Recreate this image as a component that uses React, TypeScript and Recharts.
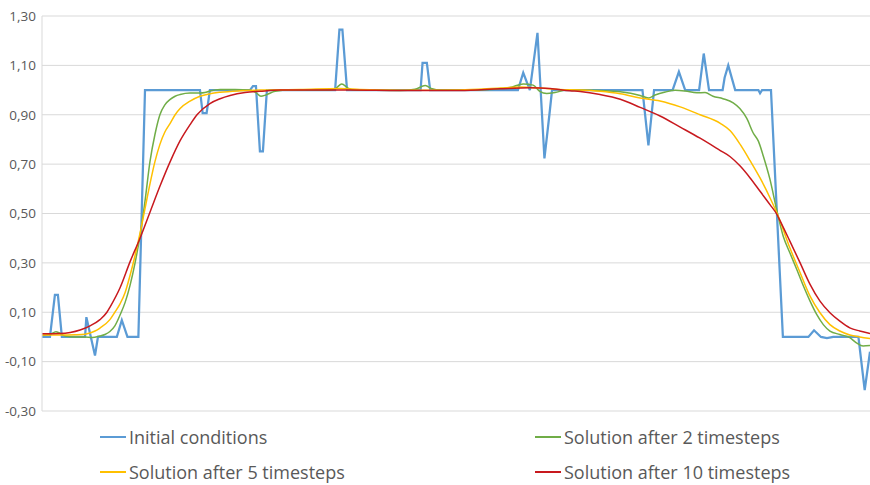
import { LineChart, Line, XAxis, YAxis, CartesianGrid, Legend } from 'recharts';

// x = cell position along the domain (0..250), y = value
const initialConditions: [number, number][] = [
  [0, 0], [2.4, 0], [3.9, 0.17], [4.8, 0.17], [6.0, 0], [13.0, 0], [13.4, 0.08],
  [16.0, -0.075], [16.9, 0], [22.6, 0], [24.1, 0.068], [25.8, 0], [29.1, 0],
  [31.1, 1.0], [47.7, 1.0], [48.5, 0.907], [49.7, 0.907], [50.7, 1.0], [62.8, 1.0],
  [63.7, 1.016], [64.6, 1.016], [65.8, 0.752], [66.7, 0.752], [67.9, 1.0],
  [88.5, 1.0], [89.8, 1.245], [90.7, 1.245], [92.1, 1.0], [114.3, 1.0],
  [114.9, 1.11], [116.2, 1.11], [117.2, 1.0], [143.7, 1.0], [145.3, 1.07],
  [147.3, 1.0], [149.6, 1.232], [151.7, 0.723], [153.2, 0.9], [154.0, 1.0],
  [181.3, 1.0], [183.1, 0.776], [184.8, 1.0], [190.4, 1.0], [192.3, 1.074],
  [194.2, 1.0], [198.4, 1.0], [199.8, 1.148], [201.4, 1.0], [205.5, 1.0],
  [206.1, 1.05], [207.2, 1.1], [209.3, 1.0], [216.3, 1.0], [216.8, 0.987],
  [217.4, 1.0], [220.1, 1.0], [223.7, 0], [231.4, 0], [233.1, 0.027], [235.2, 0],
  [237.0, -0.005], [238.9, 0], [246.5, 0], [248.4, -0.215], [250, -0.06],
];

const after2Steps: [number, number][] = [
  [0, 0.006], [2.4, 0.01], [4.2, 0.021], [5.4, 0.015], [6.9, 0.004], [10.0, 0],
  [13.0, 0], [15.1, -0.002], [17.5, 0.004], [19.0, 0.01], [20.5, 0.022],
  [22.0, 0.045], [23.6, 0.09], [25.1, 0.14], [26.6, 0.21], [28.1, 0.3],
  [29.6, 0.41], [31.1, 0.55], [32.6, 0.71], [34.1, 0.82], [35.6, 0.9],
  [37.1, 0.94], [38.7, 0.962], [40.2, 0.975], [41.7, 0.982], [44.7, 0.988],
  [47.7, 0.988], [49.2, 0.99], [50.7, 0.996], [53.8, 1.002], [58.3, 1.002],
  [62.8, 1.0], [64.6, 0.99], [66.1, 0.975], [67.6, 0.98], [70.4, 0.995],
  [74.9, 1.0], [87.0, 1.0], [88.8, 1.008], [90.5, 1.025], [92.4, 1.008],
  [94.5, 1.0], [108.1, 0.998], [112.6, 1.003], [115.7, 1.018], [117.8, 1.005],
  [120.2, 1.0], [132.3, 1.0], [141.3, 1.01], [145.3, 1.025], [148.3, 1.02],
  [150.3, 0.995], [152.4, 0.986], [154.9, 0.99], [158.4, 1.0], [162.5, 1.0],
  [168.5, 0.998], [174.6, 0.993], [180.6, 0.978], [183.1, 0.968], [185.1, 0.98],
  [188.2, 0.992], [191.2, 0.999], [194.2, 0.996], [197.7, 0.989], [200.2, 0.99],
  [202.6, 0.975], [205.6, 0.965], [208.7, 0.948], [210.7, 0.925], [212.8, 0.885],
  [214.7, 0.827], [216.3, 0.793], [217.8, 0.732], [219.8, 0.638], [221.9, 0.51],
  [223.8, 0.408], [225.8, 0.341], [227.9, 0.273], [229.9, 0.206], [231.9, 0.145],
  [233.9, 0.091], [235.9, 0.05], [237.9, 0.024], [240.9, 0.01], [243.9, -0.003],
  [245.9, -0.024], [247.9, -0.037], [250, -0.035],
];

const after5Steps: [number, number][] = [
  [0, 0.008], [5.4, 0.008], [10.0, 0.009], [13.0, 0.011], [14.5, 0.016],
  [16.0, 0.024], [17.5, 0.036], [20.5, 0.07], [22.0, 0.1], [23.6, 0.135],
  [25.1, 0.18], [26.6, 0.25], [28.1, 0.33], [29.6, 0.42], [31.1, 0.52],
  [32.6, 0.62], [34.1, 0.71], [35.6, 0.78], [37.1, 0.83], [38.7, 0.865],
  [40.2, 0.9], [41.7, 0.925], [44.7, 0.955], [47.7, 0.975], [50.7, 0.985],
  [53.8, 0.991], [59.8, 0.997], [65.8, 1.0], [77.9, 1.002], [90.0, 1.006],
  [96.0, 1.002], [108.1, 0.999], [126.2, 1.0], [138.3, 1.008], [144.3, 1.012],
  [150.4, 1.008], [156.4, 1.002], [162.5, 1.0], [168.5, 0.995], [174.6, 0.985],
  [180.6, 0.968], [186.6, 0.956], [192.7, 0.932], [198.7, 0.9], [204.8, 0.865],
  [207.8, 0.835], [210.8, 0.78], [213.8, 0.714], [216.8, 0.644], [219.8, 0.564],
  [222.3, 0.489], [225.8, 0.361], [228.9, 0.26], [231.9, 0.165], [234.9, 0.098],
  [237.9, 0.05], [240.9, 0.024], [243.9, 0.008], [246.9, 0], [250, -0.006],
];

const after10Steps: [number, number][] = [
  [0, 0.013], [5.4, 0.014], [8.5, 0.018], [11.5, 0.028], [14.5, 0.045],
  [17.5, 0.07], [19.6, 0.1], [20.5, 0.12], [23.6, 0.2], [26.6, 0.305],
  [29.6, 0.4], [32.6, 0.505], [35.6, 0.61], [38.7, 0.71], [41.7, 0.795],
  [44.7, 0.86], [46.8, 0.9], [50.7, 0.945], [53.8, 0.965], [56.8, 0.978],
  [61.3, 0.99], [65.8, 0.995], [71.9, 1.0], [93.0, 1.0], [108.1, 0.998],
  [126.2, 0.998], [138.3, 1.005], [147.3, 1.009], [153.4, 1.006], [159.4, 0.997],
  [162.5, 0.994], [168.5, 0.982], [174.6, 0.963], [180.6, 0.93], [186.6, 0.895],
  [192.7, 0.85], [198.7, 0.805], [204.8, 0.755], [207.8, 0.73], [210.8, 0.692],
  [213.8, 0.644], [216.8, 0.59], [219.8, 0.536], [221.9, 0.496], [222.9, 0.469],
  [225.8, 0.388], [228.9, 0.3], [231.9, 0.213], [234.9, 0.145], [237.9, 0.098],
  [240.9, 0.064], [243.9, 0.037], [246.9, 0.024], [250, 0.014],
];

const seriesNames = [
  'Initial conditions',
  'Solution after 2 timesteps',
  'Solution after 5 timesteps',
  'Solution after 10 timesteps',
];

const yTicks = [-0.3, -0.1, 0.1, 0.3, 0.5, 0.7, 0.9, 1.1, 1.3];

const toPoints = (pairs: [number, number][]) => pairs.map(([x, y]) => ({ x, y }));

const formatTick = (v: number) => v.toFixed(2).replace('.', ',');

function TwoColumnLegend(props: any) {
  const items = [...(props.payload || [])].sort(
    (a: any, b: any) => seriesNames.indexOf(a.value) - seriesNames.indexOf(b.value)
  );
  return (
    <div style={{ position: 'relative', width: 870, height: 55 }}>
      {items.map((item: any, i: number) => (
        <div
          key={item.value}
          style={{
            position: 'absolute',
            left: 100 + (i % 2) * 435,
            top: Math.floor(i / 2) * 35,
            height: 20,
            display: 'flex',
            alignItems: 'center',
            fontFamily: '"Open Sans", sans-serif',
            fontSize: 18,
            color: '#595959',
            whiteSpace: 'nowrap',
          }}
        >
          <span style={{ display: 'inline-block', width: 26, height: 2, background: item.color, marginRight: 3 }} />
          {item.value}
        </div>
      ))}
    </div>
  );
}

export default function App() {
  return (
    <div style={{ position: 'absolute', left: 0, top: 0, background: '#fff' }}>
      <LineChart width={870} height={485} margin={{ top: 16, right: 0, bottom: 19, left: 0 }}>
        <CartesianGrid vertical={false} stroke="#d9d9d9" />
        <XAxis type="number" dataKey="x" domain={[0, 250]} allowDataOverflow hide />
        <YAxis
          type="number"
          domain={[-0.3, 1.3]}
          ticks={yTicks}
          tickFormatter={formatTick}
          width={42}
          tickLine={false}
          tickSize={0}
          tickMargin={6}
          axisLine={{ stroke: '#d9d9d9' }}
          tick={{ fill: '#595959', fontSize: 13.5, fontFamily: '"Open Sans", sans-serif' }}
          interval={0}
        />
        <Legend
          content={<TwoColumnLegend />}
          verticalAlign="bottom"
          wrapperStyle={{ left: 0, top: 427, width: 870, height: 55 }}
        />
        <Line data={toPoints(initialConditions)} dataKey="y" name={seriesNames[0]} type="linear"
          stroke="#5B9BD5" strokeWidth={2.25} dot={false} isAnimationActive={false} />
        <Line data={toPoints(after2Steps)} dataKey="y" name={seriesNames[1]} type="monotone"
          stroke="#70AD47" strokeWidth={1.5} dot={false} isAnimationActive={false} />
        <Line data={toPoints(after5Steps)} dataKey="y" name={seriesNames[2]} type="monotone"
          stroke="#FFC000" strokeWidth={1.5} dot={false} isAnimationActive={false} />
        <Line data={toPoints(after10Steps)} dataKey="y" name={seriesNames[3]} type="monotone"
          stroke="#C8191E" strokeWidth={1.5} dot={false} isAnimationActive={false} />
      </LineChart>
    </div>
  );
}
